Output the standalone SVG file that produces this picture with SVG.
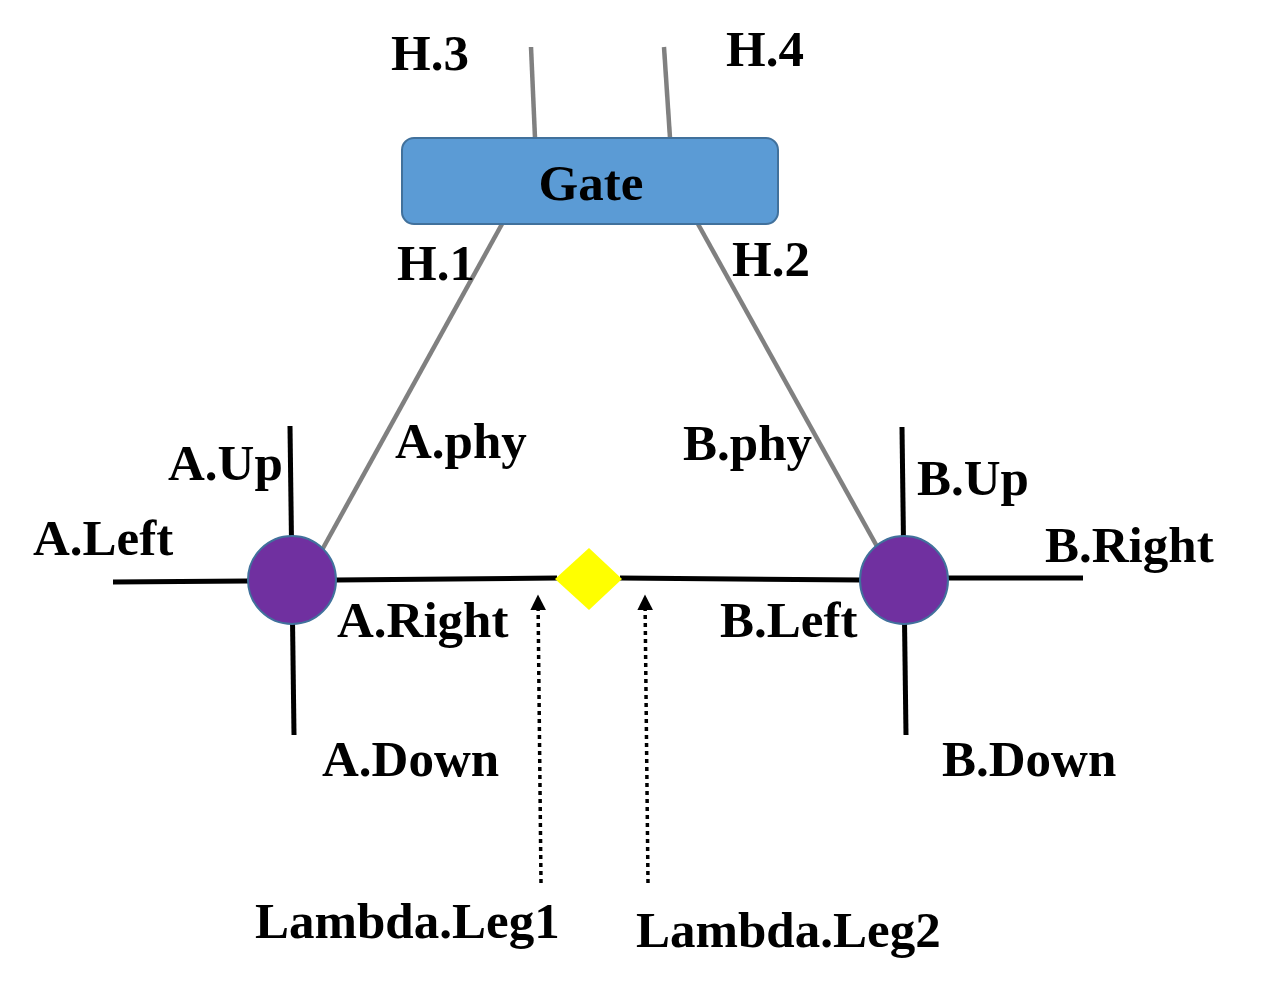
<svg xmlns="http://www.w3.org/2000/svg" width="1279" height="993" viewBox="0 0 1279 993">
<defs>
<style>
.lbl{font-family:"Liberation Serif","Times New Roman",serif;font-weight:bold;font-size:51px;fill:#000}
.grey{stroke:#808080;stroke-width:4.5;fill:none}
.blk{stroke:#000;stroke-width:5;fill:none}
.dot{stroke:#000;stroke-width:3.5;stroke-dasharray:4 4;fill:none}
.port{fill:#7030A0;stroke:#41719C;stroke-width:2}
</style>
<marker id="arr" viewBox="0 0 10 10" refX="9" refY="5" markerWidth="4.5" markerHeight="4.5" orient="auto" markerUnits="strokeWidth">
<path d="M0,0 L10,5 L0,10 Z" fill="#000"/>
</marker>
</defs>
<rect width="1279" height="993" fill="#fff"/>
<g id="connectors">
<line class="grey" x1="531" y1="47" x2="535" y2="138"/>
<line class="grey" x1="664" y1="47" x2="670" y2="138"/>
<line class="grey" x1="502" y1="224" x2="322" y2="550"/>
<line class="grey" x1="698" y1="224" x2="879" y2="550"/>
<line class="blk" x1="113" y1="582" x2="248" y2="581"/>
<line class="blk" x1="290" y1="426" x2="294" y2="735"/>
<line class="blk" x1="336" y1="580" x2="557" y2="578"/>
<line class="blk" x1="620" y1="578" x2="862" y2="580"/>
<line class="blk" x1="946" y1="578" x2="1083" y2="578"/>
<line class="blk" x1="902" y1="427" x2="906" y2="735"/>
<line class="dot" x1="541" y1="883" x2="538" y2="596" marker-end="url(#arr)"/>
<line class="dot" x1="648" y1="883" x2="645" y2="596" marker-end="url(#arr)"/>
</g>
<g id="gate">
<rect x="402" y="138" width="376" height="86" rx="12" ry="12" fill="#5B9BD5" stroke="#41719C" stroke-width="2"/>
<text class="lbl" x="591" y="200" text-anchor="middle">Gate</text>
</g>
<g id="nodeA"><circle class="port" cx="292" cy="580" r="44"/></g>
<g id="nodeB"><circle class="port" cx="904" cy="580" r="44"/></g>
<g id="lambda"><polygon points="589,548 622,579 589,610 555,579" fill="#FFFF00"/></g>
<g id="labels">
<text class="lbl" x="391" y="70">H.3</text>
<text class="lbl" x="726" y="66">H.4</text>
<text class="lbl" x="397" y="280">H.1</text>
<text class="lbl" x="732" y="276">H.2</text>
<text class="lbl" x="395" y="458">A.phy</text>
<text class="lbl" x="683" y="460">B.phy</text>
<text class="lbl" x="168" y="480">A.Up</text>
<text class="lbl" x="33" y="555">A.Left</text>
<text class="lbl" x="337" y="637">A.Right</text>
<text class="lbl" x="322" y="776">A.Down</text>
<text class="lbl" x="917" y="495">B.Up</text>
<text class="lbl" x="1045" y="562">B.Right</text>
<text class="lbl" x="720" y="637">B.Left</text>
<text class="lbl" x="942" y="776">B.Down</text>
<text class="lbl" x="255" y="938">Lambda.Leg1</text>
<text class="lbl" x="636" y="947">Lambda.Leg2</text>
</g>
</svg>
